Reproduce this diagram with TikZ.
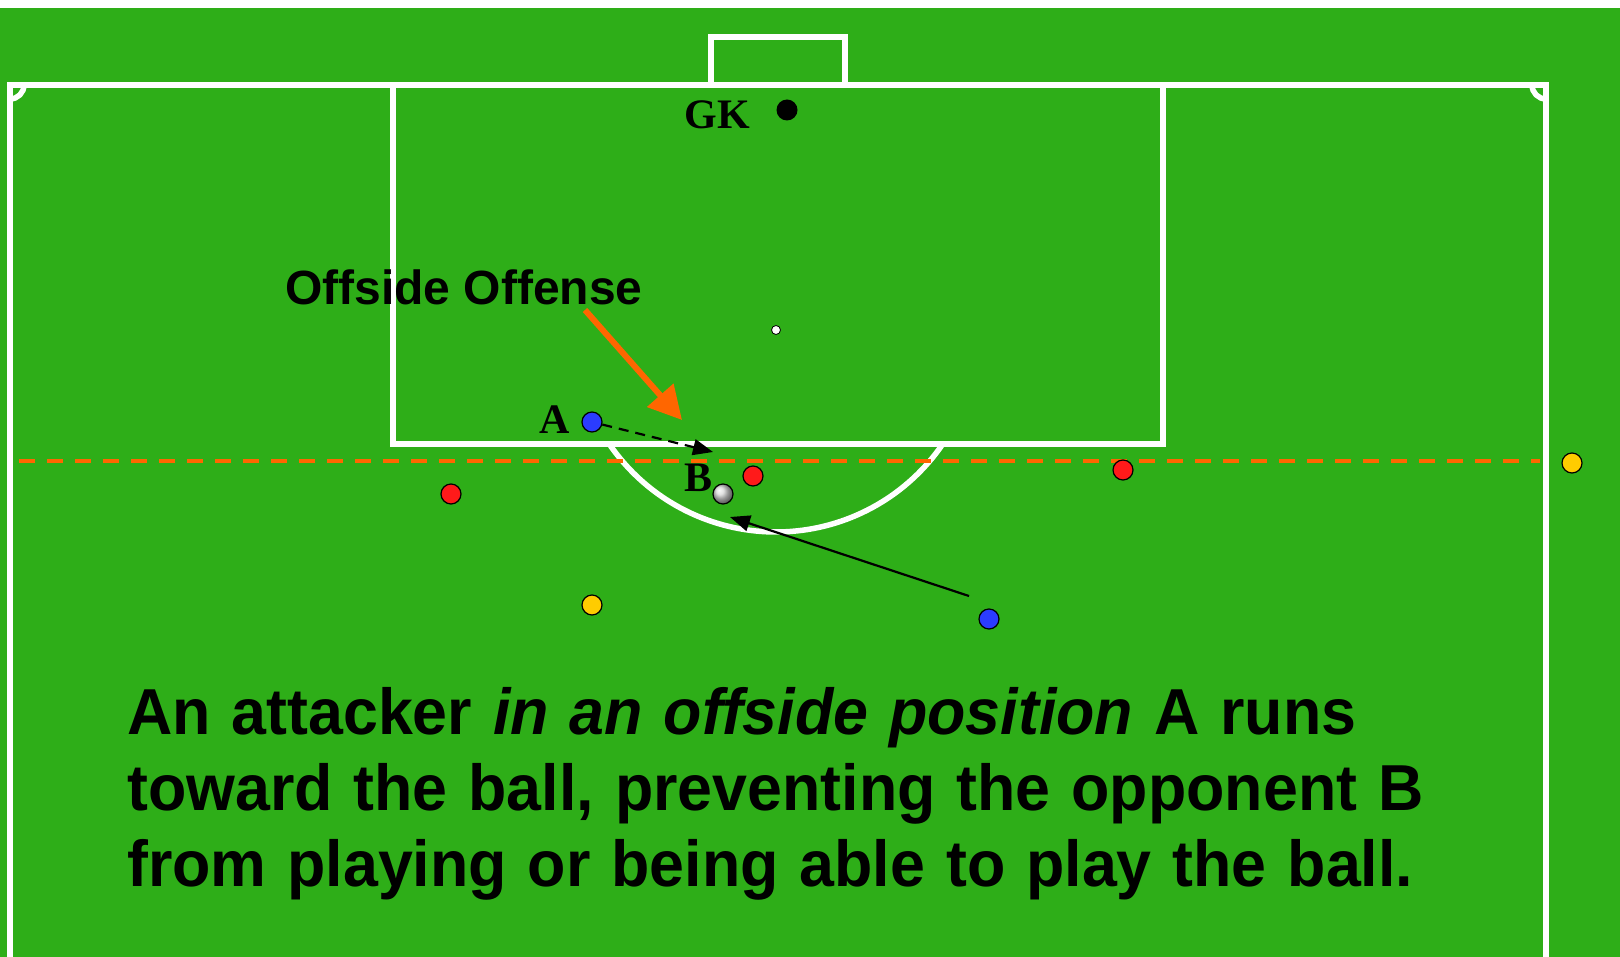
\documentclass[tikz,border=0pt]{standalone}
\usepackage{fontspec}
\setmainfont{Liberation Sans}
\newfontfamily\timesfont{Liberation Serif}
\usetikzlibrary{positioning,arrows.meta}

\definecolor{pitch}{RGB}{46,174,24}
\definecolor{offorange}{RGB}{255,102,0}
\definecolor{attblue}{RGB}{43,60,255}
\definecolor{defred}{RGB}{255,26,26}
\definecolor{refyellow}{RGB}{255,204,0}

\begin{document}
\begin{tikzpicture}[x=1pt,y=-1pt,
		fieldline/.style={white,line width=5.5pt},
		player/.style={circle,draw=black,line width=1.2pt,inner sep=0pt,minimum size=20pt},
		attacker/.style={player,fill=attblue},
		defender/.style={player,fill=defred},
		referee/.style={player,fill=refyellow},
		lbl/.style={font=\timesfont\bfseries\fontsize{42}{42}\selectfont,inner sep=0pt},
		run/.style={-{Triangle[length=20pt,width=16pt]},line width=2.2pt}]

		\useasboundingbox (0,0) rectangle (1620,957);
		\fill[white] (0,0) rectangle (1620,957);
		\fill[pitch] (0,8) rectangle (1620,957);

		% pitch lines
		\draw[fieldline] (10,957) -- (10,85) -- (1546,85) -- (1546,957);
		\draw[fieldline] (393,85) rectangle (1163,444);
		\draw[fieldline] (711,85) -- (711,37) -- (845,37) -- (845,85);
		\draw[fieldline] (10,99) arc[start angle=90,end angle=0,radius=14];
		\draw[fieldline] (1532,85) arc[start angle=180,end angle=90,radius=14];
		\node[circle,draw=black,fill=white,line width=0.8pt,inner sep=0pt,minimum size=9pt] (spot) at (776,330) {};
		\draw[fieldline] ([shift={(145.6:202)}]spot.center) arc[start angle=145.6,end angle=34.4,radius=202];

		% offside line
		\draw[offorange,line width=4pt,dash pattern=on 16pt off 12pt] (19,461) -- (1540,461);

		% players
		\node[circle,fill=black,inner sep=0pt,minimum size=21pt] (gk) at (787,110) {};
		\node[lbl,left=26pt of gk,yshift=-5pt] (gklbl) {GK};

		\node[attacker] (A) at (592,422) {};
		\node[lbl,left=11pt of A,yshift=2pt] (Albl) {A};
		\node[attacker] (att2) at (989,619) {};

		\node[defender] (B) at (753,476) {};
		\node[defender] (def1) at (451,494) {};
		\node[defender] (def2) at (1123,470) {};

		\node[referee] (ref1) at (592,605) {};
		\node[referee] (ref2) at (1572,463) {};

		\node[player,shading=ball,ball color=gray!30!white] (ball) at (723,494) {};
		\node[lbl,left=0pt of ball,yshift=16pt] (Blbl) {B};

		% runs
		\coordinate (runend) at (713,452);
		\coordinate (passstart) at (969,596);
		\coordinate (passend) at (730,517);
		\draw[run,dash pattern=on 10pt off 7pt] (A) -- (runend);
		\draw[run] (passstart) -- (passend);

		% labels
		\node[font=\bfseries\fontsize{48}{48}\selectfont,inner sep=0pt] (offlbl) at (464,287) {Offside Offense};
		\coordinate (offstart) at (585,310);
		\coordinate (offend) at (682,420);
		\draw[offorange,line width=6pt,-{Triangle[length=33pt,width=34pt]}] (offstart) -- (offend);

		\node[anchor=base west,inner sep=0pt,text width=1450pt,align=left,xscale=0.965,transform shape,
			font=\bfseries\fontsize{65}{76}\selectfont] (caption) at (127,734)
			{An attacker \textit{in an offside position} A runs\\
			toward the ball, preventing the opponent B\\
			from playing or being able to play the ball.};
	\end{tikzpicture}
\end{document}
